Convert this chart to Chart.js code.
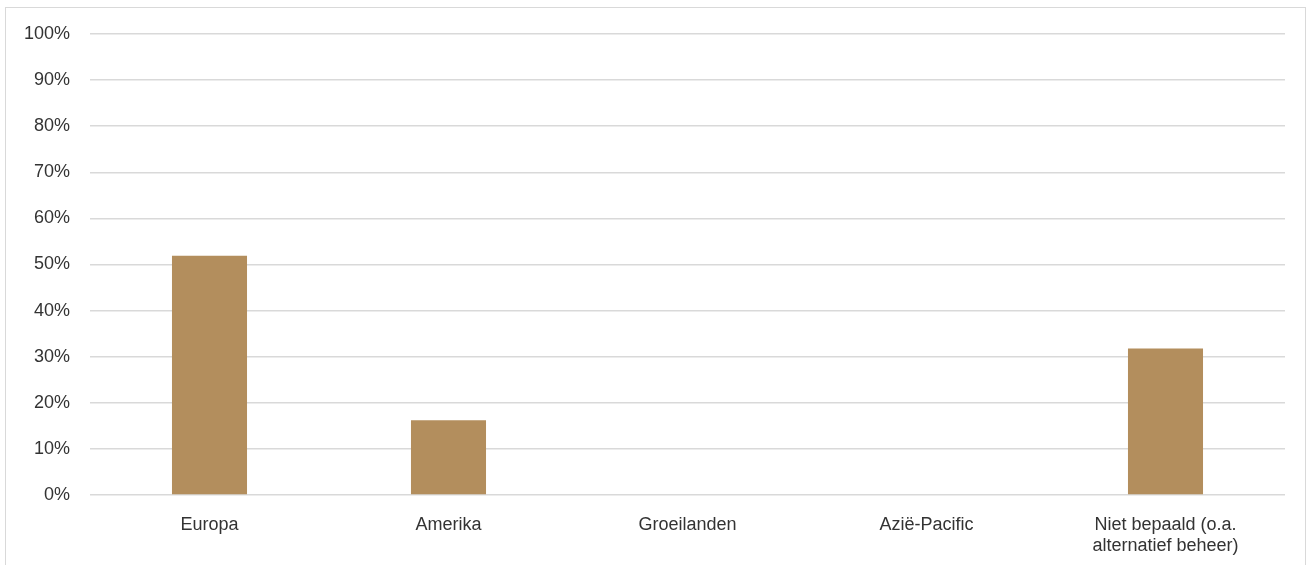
<!DOCTYPE html>
<html>
<head>
<meta charset="utf-8">
<script src="https://cdn.jsdelivr.net/npm/chart.js@4/dist/chart.umd.min.js"></script>
<style>
    html, body { margin: 0; padding: 0; background: #ffffff; overflow: hidden; }
    #frame {
        position: absolute;
        left: 5px; top: 7px;
        width: 1301px; height: 600px;
        border: 1.5px solid #d9d9d9;
        box-sizing: border-box;
    }
    #wrap { position: absolute; left: 0; top: 0; width: 1313px; height: 565px; }
</style>
</head>
<body>
<div id="frame"></div>
<div id="wrap"><canvas id="regionChart"></canvas></div>
<script>
// Categories and values (share of portfolio, %)
const categories = [
    'Europa',
    'Amerika',
    'Groeilanden',
    'Azië-Pacific',
    ['Niet bepaald (o.a.', 'alternatief beheer)']
];
const shares = [51.9, 16.2, 0, 0, 31.8];
const yTicks = [0, 10, 20, 30, 40, 50, 60, 70, 80, 90, 100];

const textColor = '#333333';
const gridColor = '#d9d9d9';
const barColor = '#b38e5d';
const fontFamily = '"Liberation Sans", Arial, sans-serif';

const ctx = document.getElementById('regionChart').getContext('2d');

new Chart(ctx, {
    type: 'bar',
    data: {
        labels: categories,
        datasets: [{
            label: 'Regio',
            data: shares,
            backgroundColor: barColor,
            borderWidth: 0,
            barPercentage: 1,
            categoryPercentage: 0.314
        }]
    },
    options: {
        responsive: true,
        maintainAspectRatio: false,
        animation: false,
        layout: {
            padding: { left: 0, right: 28, top: 34, bottom: 0 }
        },
        plugins: {
            legend: { display: false },
            tooltip: { enabled: false }
        },
        scales: {
            x: {
                grid: { display: false },
                border: { display: false },
                ticks: {
                    color: textColor,
                    maxRotation: 0,
                    autoSkip: false,
                    padding: 11,
                    font: { family: fontFamily, size: 18, lineHeight: 1.2 }
                },
                afterFit: scale => { scale.height = 70; }
            },
            y: {
                min: 0,
                max: 100,
                afterBuildTicks: scale => {
                    scale.ticks = yTicks.map(v => ({ value: v }));
                },
                grid: {
                    color: gridColor,
                    lineWidth: 1.5,
                    drawTicks: false
                },
                border: { display: false },
                ticks: {
                    color: textColor,
                    padding: 20,
                    font: { family: fontFamily, size: 18 },
                    callback: v => v + '%'
                },
                afterFit: scale => { scale.width = 90; }
            }
        }
    }
});
</script>
</body>
</html>
